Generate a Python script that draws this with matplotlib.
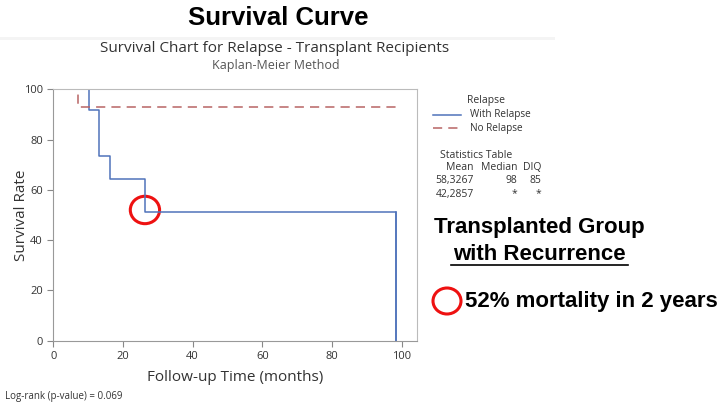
import matplotlib
matplotlib.use("Agg")
import matplotlib.pyplot as plt
from matplotlib.patches import Ellipse

# Data
with_relapse_time = [0, 10.3, 13.1, 16.2, 26.2, 98.3]
with_relapse_surv = [100, 91.7, 73.3, 64.2, 51.3, 0]
no_relapse_time = [0, 7.0]
no_relapse_surv = [100, 92.9]
no_relapse_end = 98.3
stats_header = ["Mean", "Median", "DIQ"]
stats_rows = [["58,3267", "98", "85"], ["42,2857", "*", "*"]]
xticks = [0, 20, 40, 60, 80, 100]
yticks = [0, 20, 40, 60, 80, 100]

W, H = 722, 407
fig = plt.figure(figsize=(W / 100, H / 100), dpi=100)
fig.patch.set_facecolor("white")

def fx(px):
    return px / W

def fy(py):
    return 1 - py / H

ax = fig.add_axes([fx(53.3), fy(340.7), fx(416.7) - fx(53.3), fy(89.3) - fy(340.7)])
BLUE = "#4F73BB"
RED = "#B86464"
TXT = "#333333"
chart_font = "Open Sans"

# blue step curve
bx = list(with_relapse_time)
by = list(with_relapse_surv)
ax.step(bx, by, where="post", color=BLUE, lw=1.1)
ax.plot([bx[-1], bx[-1]], [by[-2], by[-1]], color=BLUE, lw=1.1)

# red dashed
rx = list(no_relapse_time) + [no_relapse_end]
ry = list(no_relapse_surv) + [no_relapse_surv[-1]]
ax.step(rx, ry, where="post", color=RED, lw=1.1, dashes=(6, 4))

ax.set_xlim(0, 104.3)
ax.set_ylim(0, 100)
ax.set_xticks(xticks)
ax.set_yticks(yticks)
ax.tick_params(direction="out", length=4, width=0.8, colors="#888888",
               labelcolor=TXT, labelsize=8)
for lab in ax.get_xticklabels() + ax.get_yticklabels():
    lab.set_fontfamily(chart_font)
for s in ["left", "bottom"]:
    ax.spines[s].set_color("#999999")
for s in ["top", "right"]:
    ax.spines[s].set_color("#BBBBBB")
ax.set_xlabel("Follow-up Time (months)", fontsize=11, color=TXT, family=chart_font, labelpad=6)

# y label placed explicitly so it stays inside the figure
fig.text(fx(22), fy(215), "Survival Rate", rotation=90, ha="center", va="center",
         fontsize=11, color=TXT, family=chart_font)

# red circle in plot
ax.add_patch(Ellipse((26.3, 52), 8.4, 10.9, fill=False, edgecolor="#EE1111", lw=2.2, clip_on=False))

# Titles
fig.text(fx(278), fy(18), "Survival Curve", ha="center", va="center",
         fontsize=18.5, fontweight="bold", family="Liberation Sans", color="black")
fig.add_artist(plt.Rectangle((0, fy(40)), fx(555), 3 / H, transform=fig.transFigure,
                             facecolor="#F4F4F4", edgecolor="none"))
fig.text(fx(275), fy(48), "Survival Chart for Relapse - Transplant Recipients", ha="center",
         va="center", fontsize=11, family=chart_font, color=TXT)
fig.text(fx(276), fy(66), "Kaplan-Meier Method", ha="center", va="center",
         fontsize=9, family=chart_font, color="#555555")

# Legend
fig.text(fx(486), fy(101), "Relapse", ha="center", va="center", fontsize=7.5,
         family=chart_font, color=TXT)
fig.add_artist(plt.Line2D([fx(433), fx(461)], [fy(115), fy(115)], color=BLUE, lw=1.1))
fig.add_artist(plt.Line2D([fx(433), fx(461)], [fy(128), fy(128)], color=RED, lw=1.1, dashes=(6, 4)))
fig.text(fx(470), fy(115), "With Relapse", ha="left", va="center", fontsize=7.2,
         family=chart_font, color=TXT)
fig.text(fx(470), fy(128), "No Relapse", ha="left", va="center", fontsize=7.2,
         family=chart_font, color=TXT)

fig.text(fx(476), fy(155), "Statistics Table", ha="center", va="center", fontsize=7.5,
         family=chart_font, color=TXT)
col_right = [474, 517, 541]
for j, h in enumerate(stats_header):
    fig.text(fx(col_right[j]), fy(168), h, ha="right", va="center", fontsize=7.5,
             family=chart_font, color=TXT)
for i, row in enumerate(stats_rows):
    for j, v in enumerate(row):
        fig.text(fx(col_right[j]), fy(181 + 13 * i), v, ha="right", va="center",
                 fontsize=7.5, family=chart_font, color=TXT)

# Right annotation
fig.text(fx(539.5), fy(228), "Transplanted Group", ha="center", va="center", fontsize=16,
         fontweight="bold", family="Liberation Sans", color="black")
fig.text(fx(539.5), fy(254), "with Recurrence", ha="center", va="center", fontsize=16,
         fontweight="bold", family="Liberation Sans", color="black")
fig.add_artist(plt.Line2D([fx(451), fx(628)], [fy(265), fy(265)], color="black", lw=1.2))
fig.add_artist(Ellipse((fx(447), fy(301)), 28 / W, 26 / H, transform=fig.transFigure,
                       fill=False, edgecolor="#EE1111", lw=2.2))
fig.text(fx(465), fy(301), "52% mortality in 2 years", ha="left", va="center", fontsize=16,
         fontweight="bold", family="Liberation Sans", color="black")

fig.text(fx(5), fy(396), "Log-rank (p-value) = 0.069", ha="left", va="center", fontsize=7,
         family=chart_font, color=TXT)

fig.savefig("out.png", dpi=100)
